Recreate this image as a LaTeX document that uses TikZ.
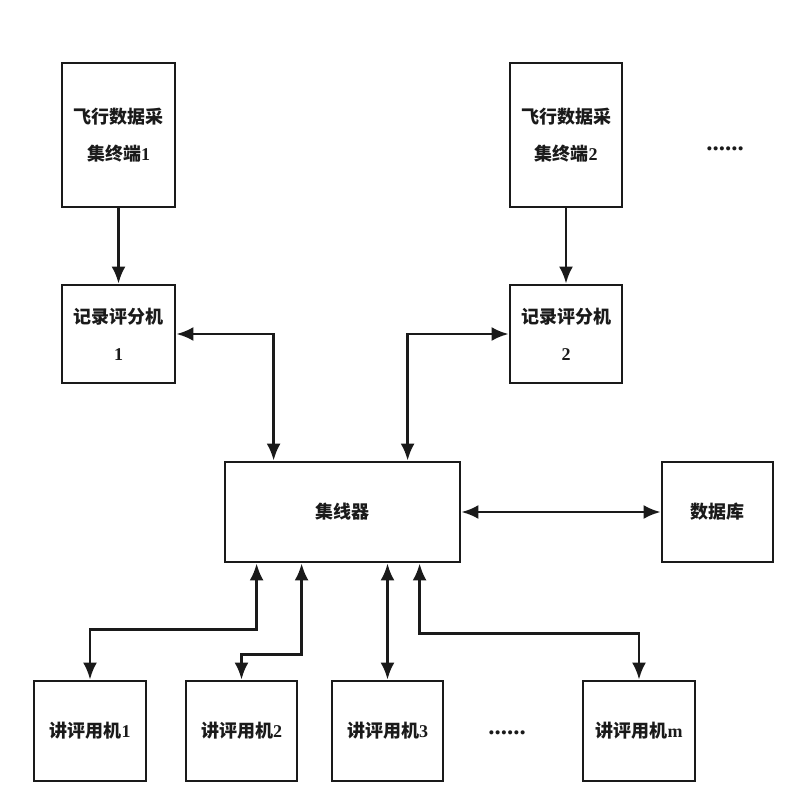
\documentclass[tikz,border=0pt]{standalone}
\usepackage{fontspec}
\setmainfont{Liberation Serif}
\newfontfamily\cjk{Noto Sans CJK SC}
\usetikzlibrary{arrows.meta}
\definecolor{ink}{HTML}{1A1A1A}
\tikzset{
  box/.style={draw=ink, line width=2.8pt, rectangle, inner sep=0pt, align=center,
    text=ink, font=\fontsize{18}{37}\selectfont\bfseries},
  link/.style={draw=ink, line width=2.8pt, {Latex[length=17pt,width=14pt]}-{Latex[length=17pt,width=14pt]}},
  onelink/.style={draw=ink, line width=2.8pt, -{Latex[length=17pt,width=14pt]}},
  dotstxt/.style={text=ink, font=\fontsize{25}{25}\selectfont\bfseries, inner sep=0pt}
}
\begin{document}
\begin{tikzpicture}[x=1pt,y=-1pt]
\useasboundingbox[fill=white] (0,0) rectangle (800,800);
% top terminals
\node[box, minimum width=113pt, minimum height=144pt] (t1) at (118.5,135) {{\cjk 飞行数据采}\\{\cjk 集终端}1};
\node[box, minimum width=112pt, minimum height=144pt] (t2) at (566,135) {{\cjk 飞行数据采}\\{\cjk 集终端}2};
\node[dotstxt] (dots1) at (725,149) {......};
% recorders
\node[box, minimum width=113pt, minimum height=98pt] (r1) at (118.5,334) {{\cjk 记录评分机}\\1};
\node[box, minimum width=112pt, minimum height=98pt] (r2) at (566,334) {{\cjk 记录评分机}\\2};
% hub and database
\node[box, minimum width=235pt, minimum height=100pt] (hub) at (342.5,512) {\cjk 集线器};
\node[box, minimum width=111pt, minimum height=100pt] (db) at (717.5,512) {\cjk 数据库};
% bottom machines
\node[box, minimum width=112pt, minimum height=100pt] (b1) at (90,731) {{\cjk 讲评用机}1};
\node[box, minimum width=111pt, minimum height=100pt] (b2) at (241.5,731) {{\cjk 讲评用机}2};
\node[box, minimum width=111pt, minimum height=100pt] (b3) at (387.5,731) {{\cjk 讲评用机}3};
\node[box, minimum width=112pt, minimum height=100pt] (bm) at (639,731) {{\cjk 讲评用机}m};
\node[dotstxt] (dots2) at (507,733) {......};
% anchor points on the hub
\coordinate (ht1) at ([xshift=50pt]hub.north west);
\coordinate (ht2) at ([xshift=184pt]hub.north west);
\coordinate (hb1) at ([xshift=33pt]hub.south west);
\coordinate (hb2) at ([xshift=78pt]hub.south west);
\coordinate (hb3) at (b3.north |- hub.south);
\coordinate (hb4) at ([xshift=196pt]hub.south west);
% connectors
\draw[onelink] (t1.south) -- (r1.north);
\draw[onelink] (t2.south) -- (r2.north);
\draw[link] (r1.east) -| (ht1);
\draw[link] (ht2) |- (r2.west);
\draw[link] (hub.east) -- (db.west);
\draw[link] (hb1) -- ++(0,66) -| (b1.north);
\draw[link] (hb2) -- ++(0,91) -| (b2.north);
\draw[link] (hb3) -- (b3.north);
\draw[link] (hb4) -- ++(0,70) -| (bm.north);
\end{tikzpicture}
\end{document}
